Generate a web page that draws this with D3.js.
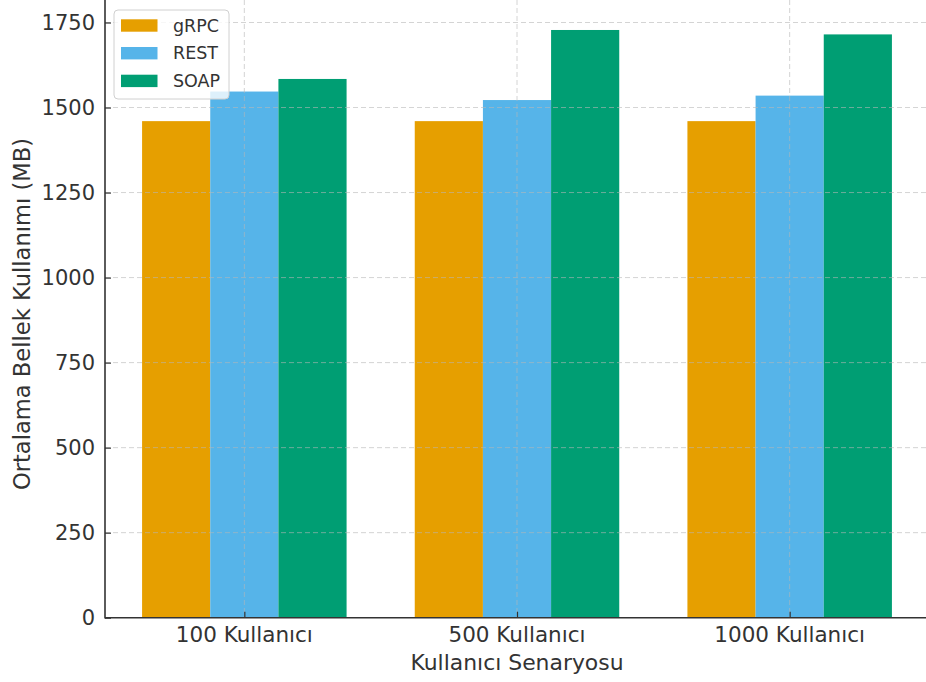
<!DOCTYPE html>
<html>
<head>
<meta charset="utf-8">
<script src="https://cdn.jsdelivr.net/npm/d3@7/dist/d3.min.js"></script>
<style>
  html, body { margin: 0; padding: 0; background: #fff; }
  svg { display: block; font-family: "DejaVu Sans", sans-serif; }
</style>
</head>
<body>
<svg id="chart" width="926" height="682"></svg>
<script>
// Scenarios and average memory usage (MB) per protocol
const categories = ["100 Kullanıcı", "500 Kullanıcı", "1000 Kullanıcı"];
const seriesNames = ["gRPC", "REST", "SOAP"];
const grpcValues = [1460, 1460, 1460];
const restValues = [1547, 1522, 1535];
const soapValues = [1584, 1728, 1715];
const yTicks = [0, 250, 500, 750, 1000, 1250, 1500, 1750];
const colors = ["#E69F00", "#56B4E9", "#009E73"];

(function () {
  const series = [grpcValues, restValues, soapValues];

  const svg = d3.select("#chart");
  const plotLeft = 105, plotRight = 929, plotBottom = 617.7, plotTop = 0;

  const x = d3.scalePoint().domain(categories).range([plotLeft, plotRight]).padding(0.511);
  const barW = x.step() * 0.25;
  const y = d3.scaleLinear().domain([0, 1750]).range([plotBottom, 22.5]);

  // Bars
  series.forEach((vals, si) => {
    svg.append("g").selectAll("rect")
      .data(vals.map((v, i) => ({ cat: categories[i], v })))
      .join("rect")
      .attr("x", d => x(d.cat) + (si - 1.5) * barW)
      .attr("y", d => y(d.v))
      .attr("width", barW)
      .attr("height", d => y(0) - y(d.v))
      .attr("fill", colors[si]);
  });

  // Dashed grid drawn over the bars
  const grid = svg.append("g")
    .attr("stroke", "#b8b8b8")
    .attr("stroke-opacity", 0.6)
    .attr("stroke-width", 1)
    .attr("stroke-dasharray", "5,3");
  grid.selectAll("line.h")
    .data(yTicks.filter(t => t > 0))
    .join("line")
    .attr("class", "h")
    .attr("x1", plotLeft).attr("x2", 926)
    .attr("y1", d => y(d)).attr("y2", d => y(d));
  grid.selectAll("line.v")
    .data(categories)
    .join("line")
    .attr("class", "v")
    .attr("x1", d => x(d)).attr("x2", d => x(d))
    .attr("y1", plotTop).attr("y2", plotBottom);

  // Y axis (ticks point inward)
  const yAxis = d3.axisRight(y).tickValues(yTicks).tickSize(6).tickFormat("");
  const gy = svg.append("g").attr("transform", `translate(${plotLeft},0)`).call(yAxis);
  gy.select(".domain").remove();
  gy.selectAll(".tick line").attr("stroke", "#333").attr("stroke-width", 1.2);
  svg.append("g").selectAll("text")
    .data(yTicks)
    .join("text")
    .attr("x", 95).attr("y", d => y(d))
    .attr("text-anchor", "end")
    .attr("dominant-baseline", "central")
    .attr("font-size", 21)
    .attr("fill", "#333")
    .text(d => d);

  // X axis (ticks point inward)
  const xAxis = d3.axisTop(x).tickSize(6).tickFormat("");
  const gx = svg.append("g").attr("transform", `translate(0,${plotBottom})`).call(xAxis);
  gx.select(".domain").remove();
  gx.selectAll(".tick line").attr("stroke", "#333").attr("stroke-width", 1.2);
  svg.append("g").selectAll("text")
    .data(categories)
    .join("text")
    .attr("x", d => x(d)).attr("y", 641.5)
    .attr("text-anchor", "middle")
    .attr("font-size", 21.5)
    .attr("fill", "#333")
    .text(d => d);

  // Spines
  svg.append("line").attr("x1", plotLeft).attr("x2", plotLeft).attr("y1", plotTop).attr("y2", plotBottom + 0.8)
    .attr("stroke", "#333").attr("stroke-width", 1.6);
  svg.append("line").attr("x1", plotLeft).attr("x2", 926).attr("y1", plotBottom).attr("y2", plotBottom)
    .attr("stroke", "#333").attr("stroke-width", 1.6);

  // Axis titles
  svg.append("text")
    .attr("x", 517).attr("y", 670)
    .attr("text-anchor", "middle")
    .attr("font-size", 21.9)
    .attr("fill", "#333")
    .text("Kullanıcı Senaryosu");
  svg.append("text")
    .attr("transform", "translate(22,314) rotate(-90)")
    .attr("text-anchor", "middle")
    .attr("dominant-baseline", "central")
    .attr("font-size", 22.6)
    .attr("fill", "#333")
    .text("Ortalama Bellek Kullanımı (MB)");

  // Legend
  const lg = svg.append("g");
  lg.append("rect")
    .attr("x", 114).attr("y", 10).attr("width", 115).attr("height", 89)
    .attr("rx", 4).attr("fill", "#fff").attr("fill-opacity", 0.8)
    .attr("stroke", "#d0d0d0").attr("stroke-width", 1);
  seriesNames.forEach((name, i) => {
    const cy = 25.5 + i * 27.7;
    lg.append("rect").attr("x", 121).attr("y", cy - 6.2).attr("width", 36.5).attr("height", 12.4)
      .attr("fill", colors[i]);
    lg.append("text").attr("x", 173).attr("y", cy)
      .attr("dominant-baseline", "central")
      .attr("font-size", 17.5).attr("fill", "#333")
      .text(name);
  });
})();
</script>
</body>
</html>
